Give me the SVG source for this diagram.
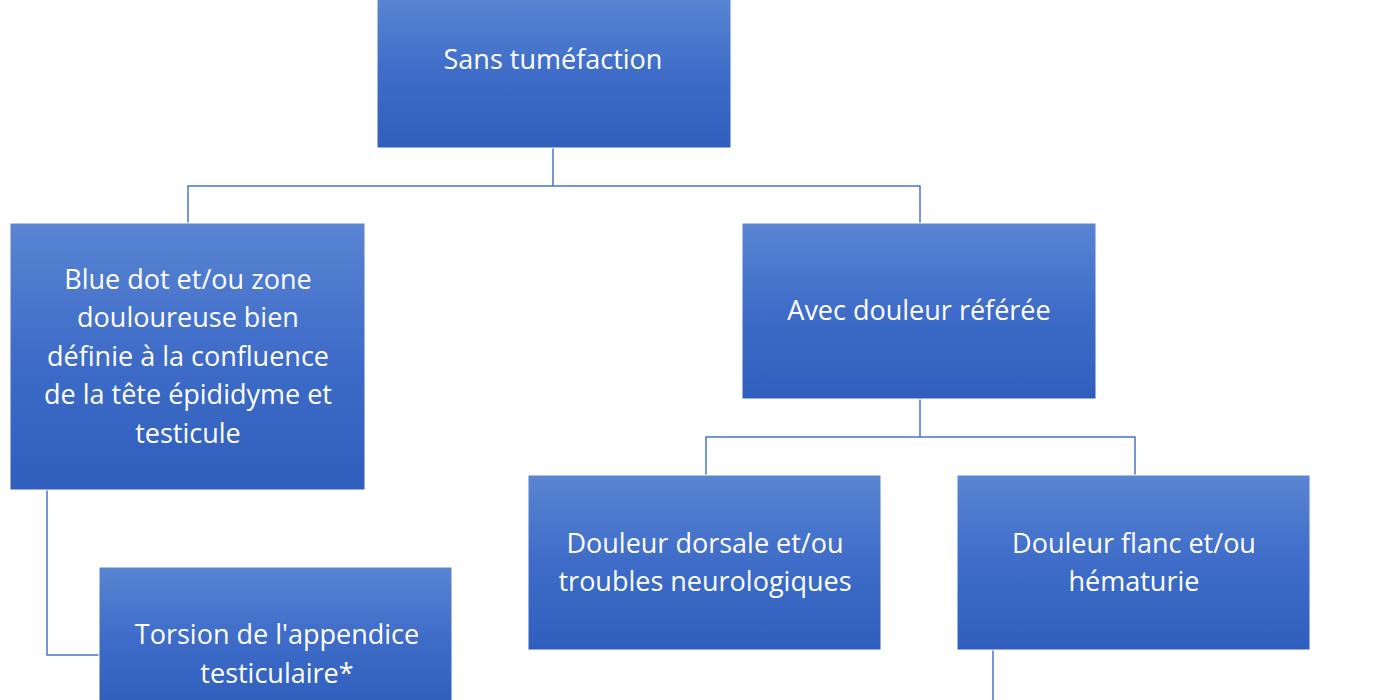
<svg xmlns="http://www.w3.org/2000/svg" width="1400" height="700" viewBox="0 0 1400 700">
<defs>
<linearGradient id="g" x1="0" y1="0" x2="0" y2="1">
<stop offset="0" stop-color="#5a85d3"/>
<stop offset="0.5" stop-color="#3e6cc8"/>
<stop offset="1" stop-color="#2f5ebd"/>
</linearGradient>
<style>
.b{fill:url(#g);stroke:#ffffff;stroke-width:1}
.t{fill:#ffffff;font-family:"Open Sans","Liberation Sans",sans-serif;font-size:27px;text-anchor:middle}
.c{fill:none;stroke:#4a73c4;stroke-width:1.5}
</style>
</defs>
<rect width="1400" height="700" fill="#ffffff"/>
<g id="connectors">
<path class="c" d="M553 148V186H188V223M553 186H920V223"/>
<path class="c" d="M920 399V437H706V475M920 437H1135V475"/>
<path class="c" d="M47 490V655H99"/>
<path class="c" d="M993 650V700"/>
</g>
<g id="n1"><rect class="b" x="377" y="-2" width="354" height="150"/><text class="t" x="553" y="69">Sans tuméfaction</text></g>
<g id="n2"><rect class="b" x="10" y="223" width="355" height="267"/>
<text class="t" x="188" y="289">Blue dot et/ou zone</text>
<text class="t" x="188" y="327">douloureuse bien</text>
<text class="t" x="188" y="366">définie à la confluence</text>
<text class="t" x="188" y="404">de la tête épididyme et</text>
<text class="t" x="188" y="443">testicule</text></g>
<g id="n3"><rect class="b" x="742" y="223" width="354" height="176"/><text class="t" x="919" y="320">Avec douleur référée</text></g>
<g id="n4"><rect class="b" x="99" y="567" width="353" height="140"/>
<text class="t" x="277" y="644">Torsion de l'appendice</text>
<text class="t" x="277" y="683">testiculaire*</text></g>
<g id="n5"><rect class="b" x="528" y="475" width="353" height="175"/>
<text class="t" x="705" y="553">Douleur dorsale et/ou</text>
<text class="t" x="705" y="591">troubles neurologiques</text></g>
<g id="n6"><rect class="b" x="957" y="475" width="353" height="175"/>
<text class="t" x="1134" y="553">Douleur flanc et/ou</text>
<text class="t" x="1134" y="591">hématurie</text></g>
</svg>
